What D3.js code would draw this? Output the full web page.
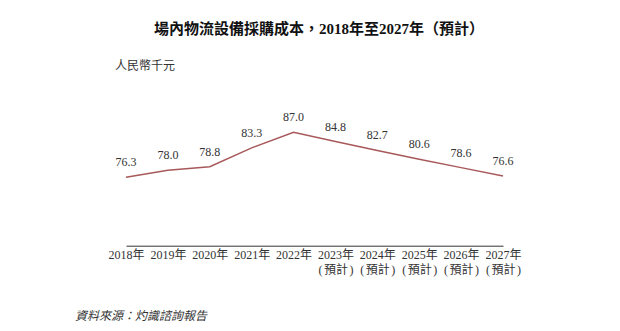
<!DOCTYPE html>
<html><head><meta charset="utf-8">
<script src="https://cdn.jsdelivr.net/npm/d3@7"></script>
<style>
html,body{margin:0;padding:0;background:#fff;}
text{font-family:"Liberation Serif","Noto Sans CJK TC",serif;}
</style></head>
<body><svg id="c" width="620" height="331"></svg>
<script>
const years = ["2018年","2019年","2020年","2021年","2022年","2023年","2024年","2025年","2026年","2027年"];
const forecast = [false,false,false,false,false,true,true,true,true,true];
const values = [76.3,78.0,78.8,83.3,87.0,84.8,82.7,80.6,78.6,76.6];
const title = "場內物流設備採購成本，2018年至2027年（預計）";
const unitLabel = "人民幣千元";
const source = "資料來源：灼識諮詢報告";
const forecastLabel = ["(", "預計", ")"];

const svg = d3.select("#c");
const x = d3.scalePoint().domain(years).range([126, 503]);
const y = d3.scaleLinear().domain([70, 90]).range([203.8, 119.7]);

svg.append("text").attr("x", 319).attr("y", 34).attr("text-anchor","middle")
  .attr("font-size", 15).attr("font-weight","bold").attr("fill","#111").text(title);
svg.append("text").attr("x", 115).attr("y", 69.5).attr("font-size", 12).attr("fill","#333").text(unitLabel);

const line = d3.line().x((d,i)=>x(years[i])).y(d=>y(d));
svg.append("path").datum(values).attr("d", line).attr("fill","none")
  .attr("stroke","#a8585a").attr("stroke-width",1.5);

svg.selectAll(".v").data(values).enter().append("text")
  .attr("x",(d,i)=>x(years[i])).attr("y",d=>y(d)-11)
  .attr("text-anchor","middle").attr("font-size",12).attr("fill","#333")
  .text(d=>d.toFixed(1));

const axis = d3.axisBottom(x).tickSize(0).tickPadding(0);
const g = svg.append("g").attr("transform","translate(0,245.7)").call(axis);
g.select(".domain").attr("stroke","#333").attr("stroke-width",1);
g.selectAll(".tick text").remove();
g.selectAll(".tick").each(function(d,i){
  const s = d3.select(this);
  s.append("text").attr("text-anchor","middle").attr("font-size",12).attr("fill","#333")
    .attr("x",0).attr("y",13.5).text(d);
  if (forecast[i]) {
    const t = s.append("text").attr("font-size",12).attr("fill","#333").attr("y",28.5);
    t.append("tspan").attr("x",-13.5).attr("text-anchor","end").text(forecastLabel[0]);
    t.append("tspan").attr("x",0).attr("text-anchor","middle").text(forecastLabel[1]);
    t.append("tspan").attr("x",13.5).attr("text-anchor","start").text(forecastLabel[2]);
  }
});

svg.append("text").attr("x", 75).attr("y", 320).attr("font-size", 12).attr("font-style","italic")
  .attr("fill","#333").text(source);
</script></body></html>
